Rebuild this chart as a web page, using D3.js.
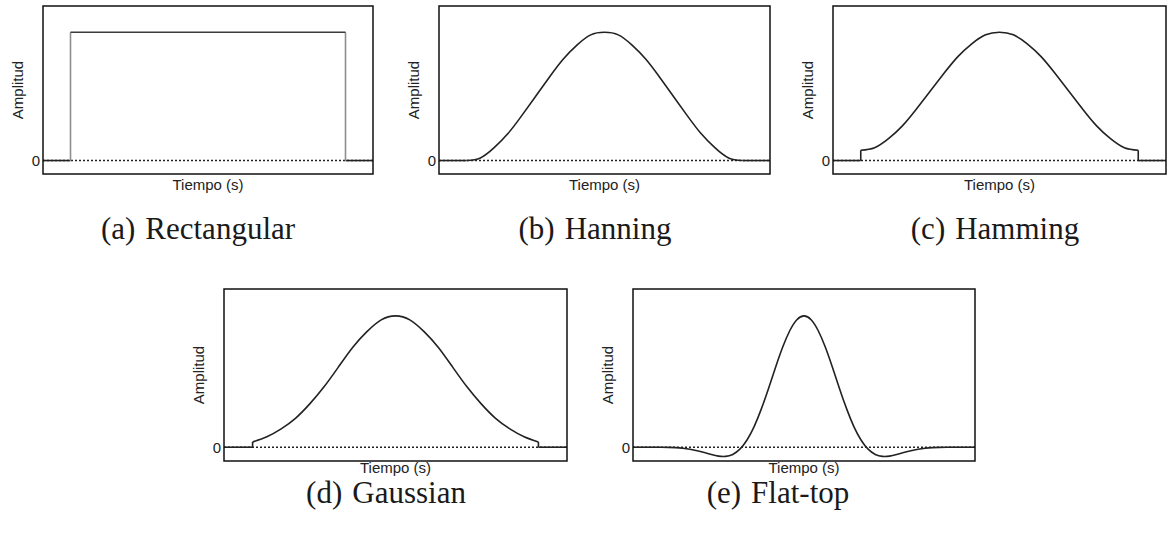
<!DOCTYPE html>
<html>
<head>
<meta charset="utf-8">
<script src="https://cdn.jsdelivr.net/npm/d3@7"></script>
<style>
  body { margin: 0; background: #fff; }
  .lbl { font-family: "Liberation Sans", Arial, sans-serif; font-size: 15px; fill: #222; }
  .cap { font-family: "Liberation Serif", "Times New Roman", serif; font-size: 31px; fill: #1a1a1a; }
</style>
</head>
<body>
<div id="chart"></div>
<script>
// labels
var captionLetters = ["(a)", "(b)", "(c)", "(d)", "(e)"];
var windowNames = ["Rectangular", "Hanning", "Hamming", "Gaussian", "Flat-top"];
var yAxisLabel = "Amplitud";
var xAxisLabel = "Tiempo (s)";
var zeroTick = 0;

// normalised time samples read along each window
var tCoarse = [-0.5, -0.45, -0.4, -0.35, -0.3, -0.25, -0.2, -0.15, -0.1, -0.05, 0,
  0.05, 0.1, 0.15, 0.2, 0.25, 0.3, 0.35, 0.4, 0.45, 0.5];
var tFine = [-0.5, -0.475, -0.45, -0.425, -0.4, -0.375, -0.35, -0.325, -0.3, -0.275, -0.25,
  -0.225, -0.2, -0.175, -0.15, -0.125, -0.1, -0.075, -0.05, -0.025, 0,
  0.025, 0.05, 0.075, 0.1, 0.125, 0.15, 0.175, 0.2, 0.225, 0.25,
  0.275, 0.3, 0.325, 0.35, 0.375, 0.4, 0.425, 0.45, 0.475, 0.5];

// amplitudes
var rectangular = [1, 1, 1, 1, 1, 1, 1, 1, 1, 1, 1, 1, 1, 1, 1, 1, 1, 1, 1, 1, 1];
var hanning = [0.00, 0.02, 0.10, 0.21, 0.35, 0.50, 0.65, 0.79, 0.90, 0.98, 1.00,
  0.98, 0.90, 0.79, 0.65, 0.50, 0.35, 0.21, 0.10, 0.02, 0.00];
var hamming = [0.08, 0.10, 0.17, 0.27, 0.40, 0.54, 0.68, 0.81, 0.91, 0.98, 1.00,
  0.98, 0.91, 0.81, 0.68, 0.54, 0.40, 0.27, 0.17, 0.10, 0.08];
var gaussian = [0.04, 0.08, 0.14, 0.22, 0.33, 0.46, 0.61, 0.76, 0.88, 0.97, 1.00,
  0.97, 0.88, 0.76, 0.61, 0.46, 0.33, 0.22, 0.14, 0.08, 0.04];
var flatTop = [0.000, -0.001, -0.003, -0.008, -0.016, -0.027, -0.041, -0.056, -0.068, -0.070, -0.055,
  -0.015, 0.055, 0.157, 0.290, 0.444, 0.607, 0.761, 0.887, 0.971, 1.000,
  0.971, 0.887, 0.761, 0.607, 0.444, 0.290, 0.157, 0.055, -0.015, -0.055,
  -0.070, -0.068, -0.056, -0.041, -0.027, -0.016, -0.008, -0.003, -0.001, 0.000];

var xRange = [-0.6, 0.6];
var yRange = [-0.105, 1.205];

var svg = d3.select("#chart").append("svg")
  .attr("width", 1169)
  .attr("height", 533);

// box = [left, top, right, bottom]; cap = caption centre x / baseline y; xl = x label baseline
var panels = [
  { t: tCoarse, v: rectangular, box: [43, 6, 373, 174], xl: 190, cap: [198, 239], rect: true },
  { t: tCoarse, v: hanning, box: [439, 6, 770, 174], xl: 190, cap: [595, 239] },
  { t: tCoarse, v: hamming, box: [833, 6, 1166, 174], xl: 190, cap: [995, 239] },
  { t: tCoarse, v: gaussian, box: [224, 289, 567, 461], xl: 473, cap: [386, 503] },
  { t: tFine, v: flatTop, box: [633, 289, 975, 461], xl: 473, cap: [778, 503] }
];

panels.forEach(function (p, i) {
  drawPanel(p, i);
});

function drawPanel(p, i) {
  var x0 = p.box[0], y0 = p.box[1], x1 = p.box[2], y1 = p.box[3];
  var x = d3.scaleLinear().domain(xRange).range([x0, x1]);
  var y = d3.scaleLinear().domain(yRange).range([y1, y0]);
  var g = svg.append("g");

  // dotted zero line
  g.append("line")
    .attr("x1", x(xRange[0])).attr("x2", x(xRange[1]))
    .attr("y1", y(zeroTick)).attr("y2", y(zeroTick))
    .style("stroke", "#222")
    .style("stroke-width", 1.5)
    .style("stroke-dasharray", "2,2");

  var data = p.t.map(function (d, k) { return [d, p.v[k]]; });
  var n = data.length - 1;

  var straight = d3.line()
    .x(function (d) { return x(d[0]); })
    .y(function (d) { return y(d[1]); });

  // flat parts outside the window
  [[[xRange[0], 0], [data[0][0], 0]], [[data[n][0], 0], [xRange[1], 0]]].forEach(function (seg) {
    g.append("path")
      .attr("d", straight(seg))
      .style("fill", "none")
      .style("stroke", "#222")
      .style("stroke-width", 1.6);
  });
  // step up to the window's edge values
  [[[data[0][0], 0], data[0]], [[data[n][0], 0], data[n]]].forEach(function (seg) {
    g.append("path")
      .attr("d", straight(seg))
      .style("fill", "none")
      .style("stroke", p.rect ? "#8e8e8e" : "#222")
      .style("stroke-width", 1.6);
  });

  var line = d3.line()
    .curve(p.rect ? d3.curveLinear : d3.curveNatural)
    .x(function (d) { return x(d[0]); })
    .y(function (d) { return y(d[1]); });
  g.append("path")
    .datum(data)
    .attr("d", line)
    .style("fill", "none")
    .style("stroke", p.rect ? "#3a3a3a" : "#222")
    .style("stroke-width", 1.6);

  // frame
  g.append("rect")
    .attr("x", x0).attr("y", y0)
    .attr("width", x1 - x0).attr("height", y1 - y0)
    .style("fill", "none")
    .style("stroke", "#111")
    .style("stroke-width", 1.5);

  g.append("text")
    .attr("class", "lbl")
    .attr("x", x0 - 3)
    .attr("y", y(zeroTick))
    .attr("dy", "0.36em")
    .style("text-anchor", "end")
    .text(zeroTick);

  g.append("text")
    .attr("class", "lbl")
    .attr("transform", "translate(" + (x0 - 20) + "," + ((y0 + y1) / 2) + ") rotate(-90)")
    .style("text-anchor", "middle")
    .text(yAxisLabel);

  g.append("text")
    .attr("class", "lbl")
    .attr("x", (x0 + x1) / 2)
    .attr("y", p.xl)
    .style("text-anchor", "middle")
    .text(xAxisLabel);

  var cap = g.append("text")
    .attr("class", "cap")
    .attr("x", p.cap[0])
    .attr("y", p.cap[1])
    .style("text-anchor", "middle");
  cap.append("tspan").text(captionLetters[i]);
  cap.append("tspan").attr("dx", 10).text(windowNames[i]);
}
</script>
</body>
</html>
